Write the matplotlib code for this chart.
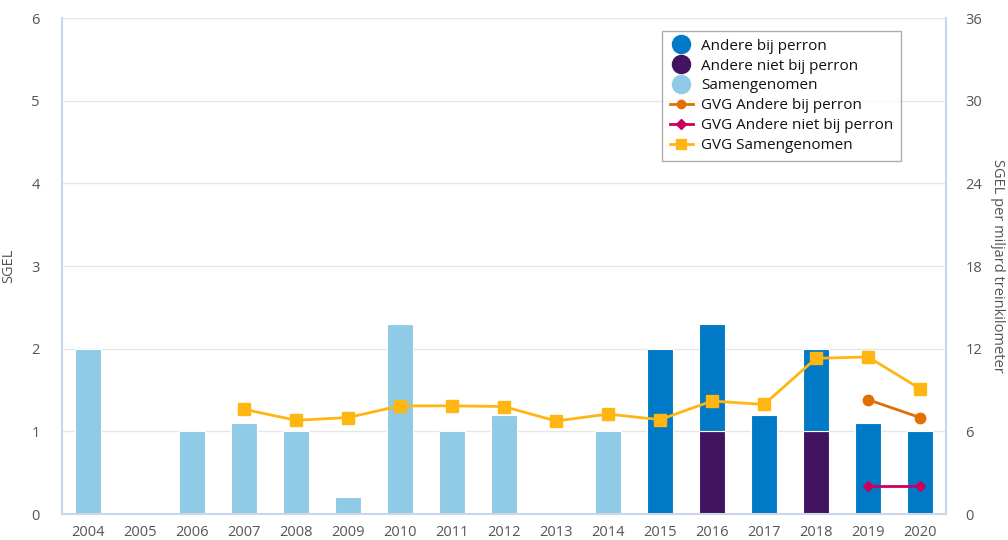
import matplotlib
matplotlib.use("Agg")
import matplotlib.pyplot as plt
from matplotlib.lines import Line2D
import numpy as np

years = [str(y) for y in range(2004, 2021)]
andere_bij = [0, 0, 0, 0, 0, 0, 0, 0, 0, 0, 0, 2.0, 1.3, 1.2, 1.0, 1.1, 1.0]
andere_niet = [0, 0, 0, 0, 0, 0, 0, 0, 0, 0, 0, 0, 1.0, 0, 1.0, 0, 0]
samen = [2.0, 0, 1.0, 1.1, 1.0, 0.2, 2.3, 1.0, 1.2, 0, 1.0, 0, 0, 0, 0, 0, 0]
gvg_bij = [None] * 15 + [8.3, 7.0]
gvg_niet = [None] * 15 + [2.0, 2.0]
gvg_samen = [None, None, None, 7.6, 6.8, 7.0, 7.85, 7.85, 7.8, 6.75, 7.25, 6.85, 8.2, 7.95, 11.3, 11.4, 9.1]

c_bij = "#0079c6"
c_niet = "#42145f"
c_samen = "#8fcae6"
c_gbij = "#e17000"
c_gniet = "#ca005d"
c_gsamen = "#ffb612"
txt = "#555555"
spine = "#ccd6eb"

plt.rcParams['font.family'] = ['Open Sans', 'DejaVu Sans']

fig = plt.figure(figsize=(10.08, 5.4), dpi=100)
ax = fig.add_axes([62/1008, 26/540, (946-62)/1008, (514-18)/540])
x = np.arange(len(years))
w = 0.5

ax.bar(x, samen, w, color=c_samen, edgecolor="white", linewidth=0.8, zorder=2)
ax.bar(x, andere_niet, w, color=c_niet, edgecolor="white", linewidth=0.8, zorder=2)
ax.bar(x, andere_bij, w, bottom=andere_niet, color=c_bij, edgecolor="white", linewidth=0.8, zorder=2)

ax.set_ylim(0, 6)
ax.set_xlim(-0.5, len(years) - 0.5)
ax.set_yticks(range(7))
ax.set_xticks(x)
ax.set_xticklabels(years)
ax.grid(axis='y', color="#e6e6e6", linewidth=1, zorder=0)
ax.set_axisbelow(True)
ax.tick_params(length=0, labelsize=10.5, colors=txt, pad=8)
ax.tick_params(axis='y', pad=16)
ax.set_ylabel("SGEL", color=txt, fontsize=10.5)
ax.yaxis.set_label_coords(-46/884, 0.5)
for s in ['left', 'right', 'bottom']:
    ax.spines[s].set_color(spine)
    ax.spines[s].set_linewidth(1.5)
ax.spines['top'].set_visible(False)

ax2 = ax.twinx()
ax2.set_ylim(0, 36)
ax2.set_yticks(range(0, 37, 6))
ax2.tick_params(length=0, labelsize=10.5, colors=txt, pad=14)
for s in ['left', 'right', 'bottom', 'top']:
    ax2.spines[s].set_visible(False)
ax2.set_ylabel("SGEL per miljard treinkilometer", color=txt, fontsize=10.5, rotation=270, va='center')
ax2.yaxis.set_label_coords((998-62)/884, 0.5)

def series(v):
    return np.array([np.nan if a is None else a for a in v], dtype=float)

ax2.plot(x, series(gvg_samen), color=c_gsamen, marker='s', markersize=8, linewidth=2, zorder=5)
ax2.plot(x, series(gvg_bij), color=c_gbij, marker='o', markersize=7.5, linewidth=2, zorder=5)
ax2.plot(x, series(gvg_niet), color=c_gniet, marker='D', markersize=5.5, linewidth=2, zorder=5)

handles = [
    Line2D([], [], linestyle='none', marker='o', markersize=13, color=c_bij),
    Line2D([], [], linestyle='none', marker='o', markersize=13, color=c_niet),
    Line2D([], [], linestyle='none', marker='o', markersize=13, color=c_samen),
    Line2D([], [], color=c_gbij, marker='o', markersize=6, linewidth=2),
    Line2D([], [], color=c_gniet, marker='D', markersize=5, linewidth=2),
    Line2D([], [], color=c_gsamen, marker='s', markersize=7, linewidth=2),
]
labels = ["Andere bij perron", "Andere niet bij perron", "Samengenomen",
          "GVG Andere bij perron", "GVG Andere niet bij perron", "GVG Samengenomen"]
leg = ax2.legend(handles, labels, loc='upper left', bbox_to_anchor=((662-62)/884, (514-31)/496),
                 frameon=True, fancybox=False, edgecolor="#999999", fontsize=11,
                 handlelength=1.5, handletextpad=0.55, labelspacing=0.32, borderpad=0.5,
                 borderaxespad=0)
leg.get_frame().set_linewidth(1)
for t in leg.get_texts():
    t.set_color("#111111")

fig.savefig("out.png", dpi=100, facecolor="white")
